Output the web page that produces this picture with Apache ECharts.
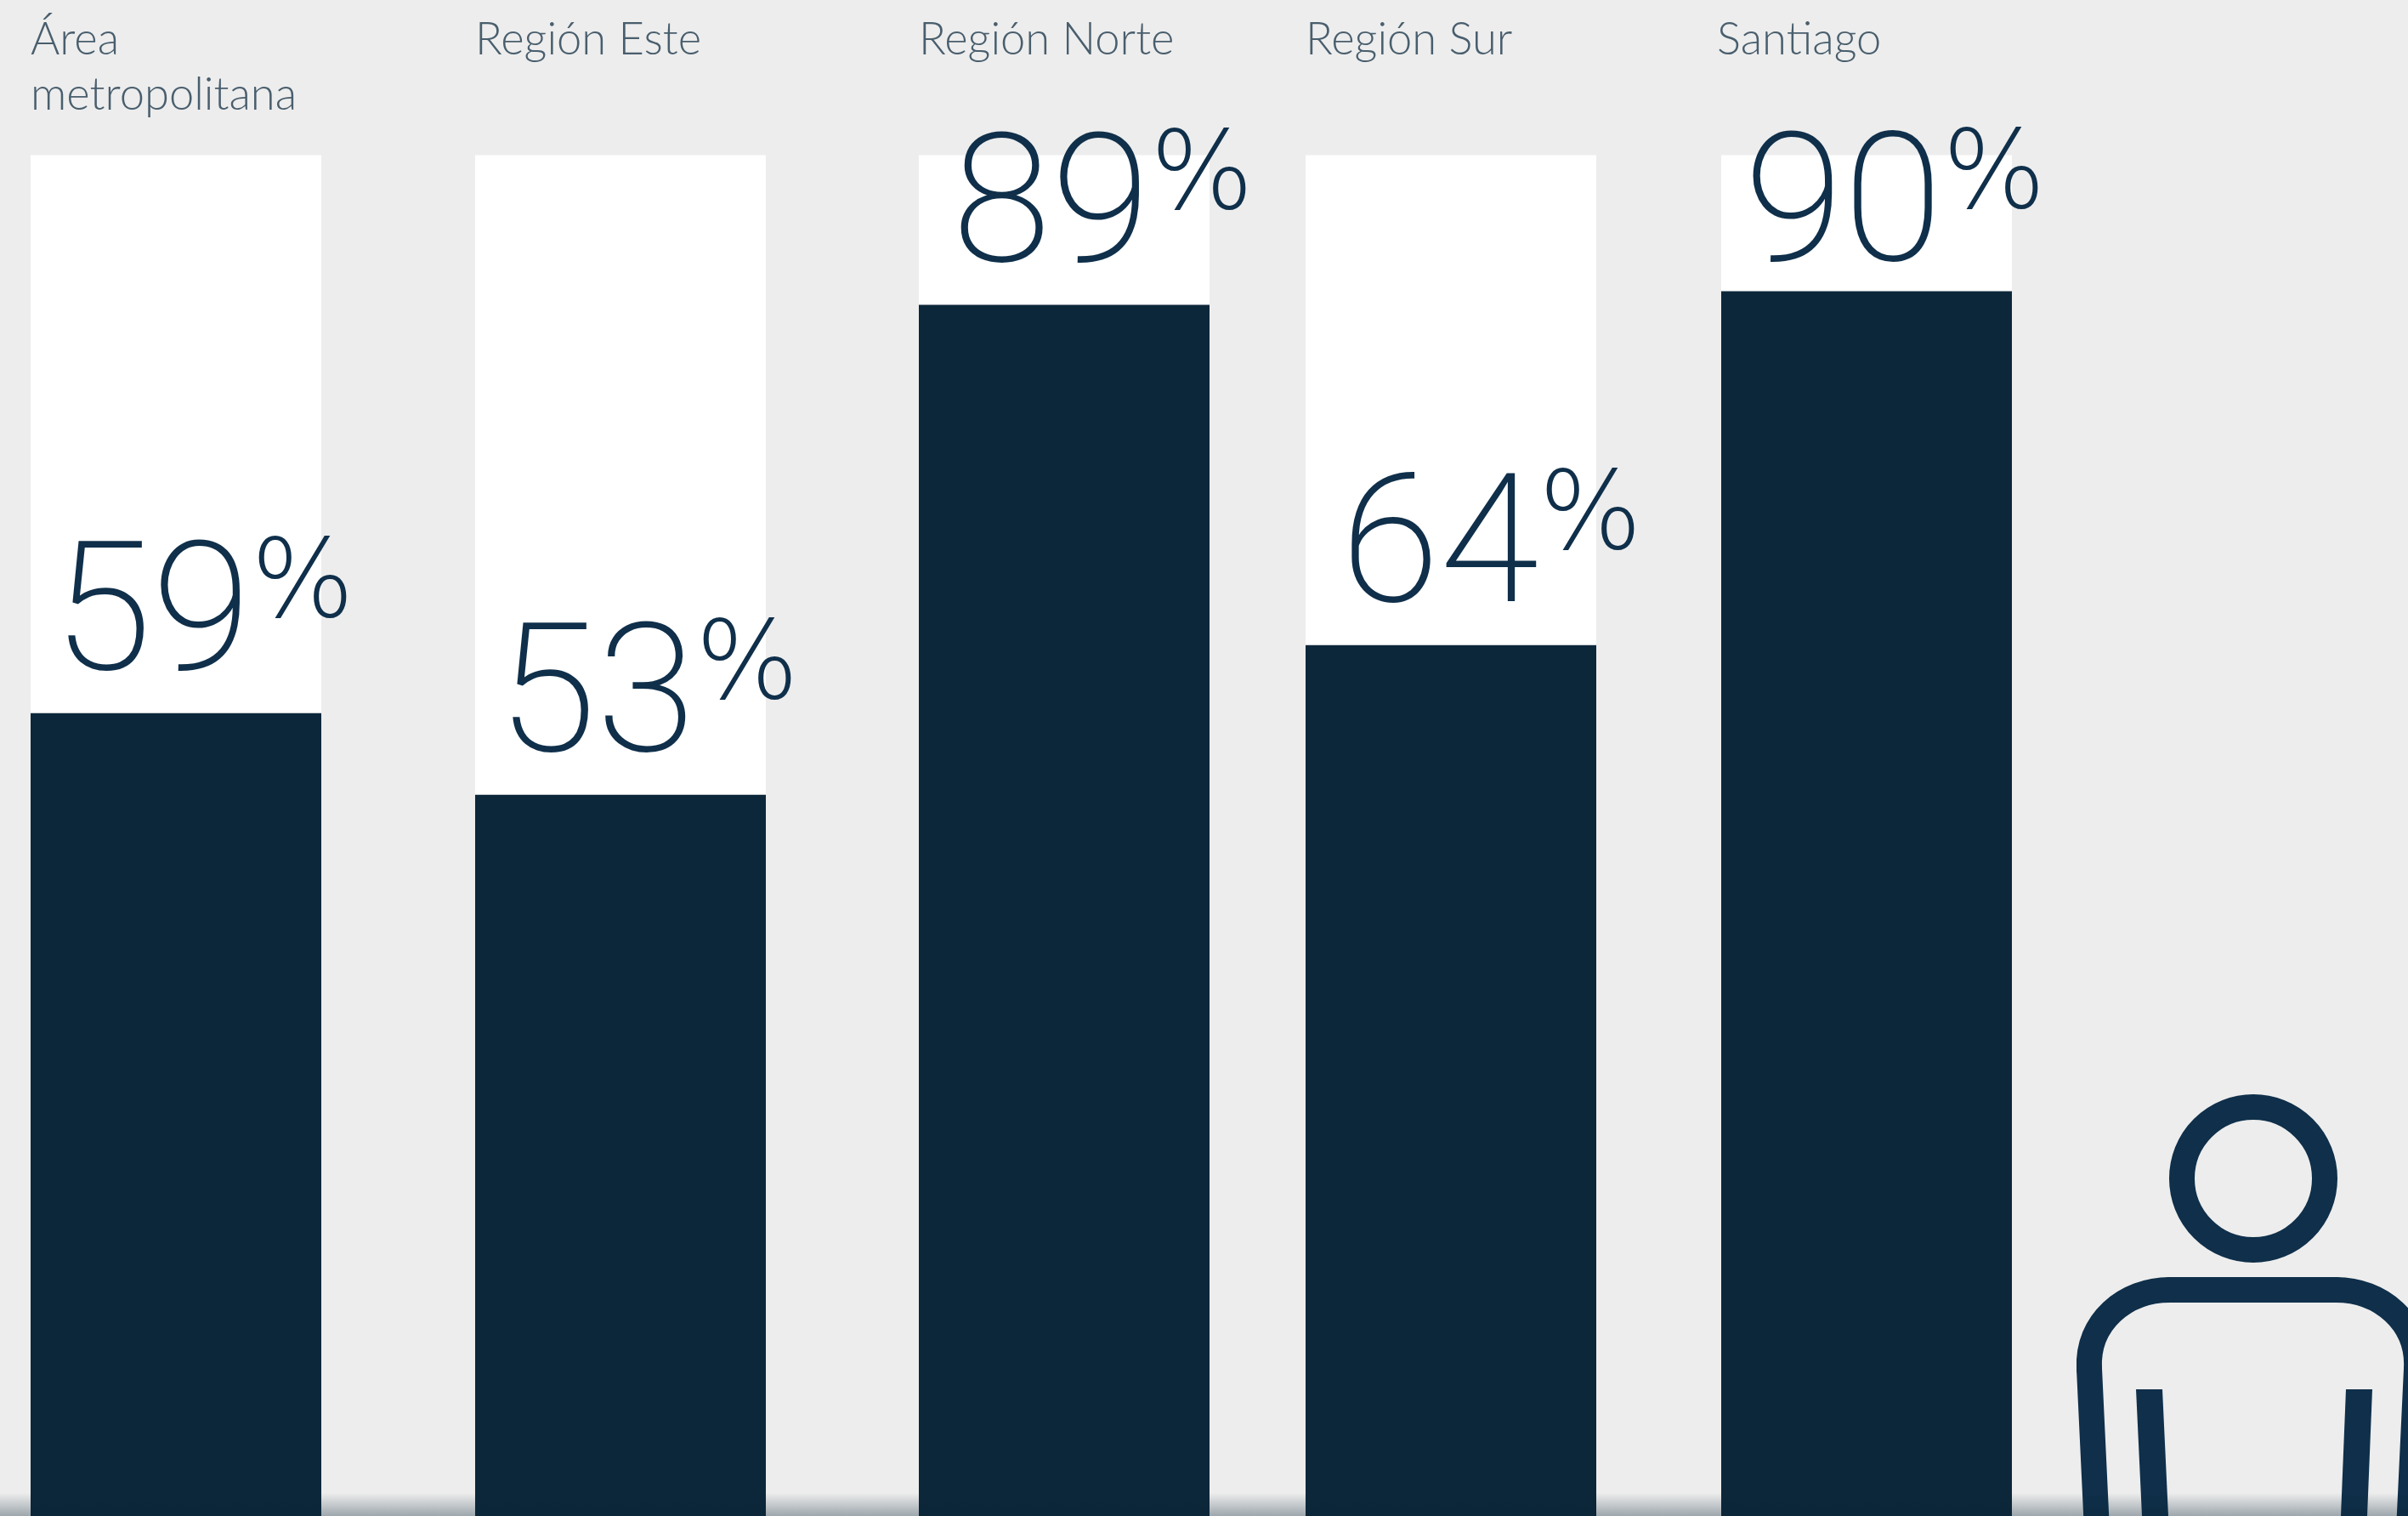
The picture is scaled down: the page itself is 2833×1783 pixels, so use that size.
<!DOCTYPE html>
<html>
<head>
<meta charset="utf-8">
<style>html,body{margin:0;height:100%;background:#ededed}#chart{width:2833px;height:1783px}</style>
<script src="https://cdn.jsdelivr.net/npm/echarts@6/dist/echarts.min.js"></script>
</head>
<body>
<div id="chart"></div>
<script>
// Regional shares, one panel per region
const regions = ['Área\nmetropolitana', 'Región Este', 'Región Norte', 'Región Sur', 'Santiago'];
const shares = [59, 53, 89, 64, 90];
const fullScale = 100;

// Panel layout and per-panel text nudges
const panelLefts = [36, 559, 1081, 1536, 2025];
const panelWidth = 342;
const panelTop = 182.5;
const panelHeight = 1600.5;
const nameShiftX = [0, 0, 0, 0, -5];
const valueShiftX = [26, 26, 39, 41, 27];
const valueShiftY = [0, 0, 0, 0, 15];

const ink = '#0f2f4a';
const barColor = '#0d273a';
const nameColor = '#495e6d';
const nameFont = 'Lato';
const digitFont = 'Roboto';
const percentFont = 'DejaVu Sans';

const grid = [], xAxis = [], yAxis = [], series = [];
regions.forEach((name, i) => {
  grid.push({ left: panelLefts[i], width: panelWidth, top: panelTop, height: panelHeight });
  xAxis.push({ type: 'category', gridIndex: i, data: [name], show: false });
  yAxis.push({ type: 'value', gridIndex: i, min: 0, max: fullScale, show: false });
  // White track carrying the region name above it
  series.push({
    type: 'bar', xAxisIndex: i, yAxisIndex: i, barWidth: '100%', barGap: '-100%',
    silent: true, animation: false,
    data: [fullScale],
    itemStyle: { color: '#ffffff' },
    label: {
      show: true, position: [nameShiftX[i], -168], align: 'left', verticalAlign: 'top',
      formatter: '{b}', fontFamily: nameFont, fontWeight: 300, fontSize: 52.5,
      lineHeight: 65, color: nameColor
    }
  });
  // Filled share with its percentage above
  series.push({
    type: 'bar', xAxisIndex: i, yAxisIndex: i, barWidth: '100%', barGap: '-100%',
    silent: true, animation: false,
    data: [shares[i]],
    itemStyle: { color: barColor },
    label: {
      show: true, position: [valueShiftX[i], 1 + valueShiftY[i]], align: 'left', verticalAlign: 'bottom',
      formatter: p => '{d|' + p.value + '}{p|%}',
      rich: {
        d: { fontFamily: digitFont, fontWeight: 200, fontSize: 212, lineHeight: 212, color: ink },
        p: { fontFamily: percentFont, fontWeight: 200, fontSize: 128, lineHeight: 128, color: ink, verticalAlign: 'top' }
      }
    }
  });
});

// Person pictogram at the lower right
const personLine = { fill: 'none', stroke: ink, lineWidth: 30, lineCap: 'round' };
const person = [
  { type: 'circle', shape: { cx: 2651, cy: 1386, r: 84 }, style: personLine },
  { type: 'line', shape: { x1: 2467, y1: 1800, x2: 2458, y2: 1610 }, style: personLine },
  { type: 'bezierCurve', shape: { x1: 2458, y1: 1610, cpx1: 2455, cpy1: 1555, cpx2: 2500, cpy2: 1517, x2: 2553, y2: 1517 }, style: personLine },
  { type: 'line', shape: { x1: 2553, y1: 1517, x2: 2748, y2: 1517 }, style: personLine },
  { type: 'bezierCurve', shape: { x1: 2748, y1: 1517, cpx1: 2801, cpy1: 1517, cpx2: 2846, cpy2: 1555, x2: 2843, y2: 1610 }, style: personLine },
  { type: 'line', shape: { x1: 2843, y1: 1610, x2: 2834, y2: 1800 }, style: personLine },
  { type: 'polygon', shape: { points: [[2513, 1634], [2544, 1634], [2551, 1783], [2520, 1783]] }, style: { fill: ink } },
  { type: 'polygon', shape: { points: [[2760, 1634], [2791, 1634], [2785, 1783], [2754, 1783]] }, style: { fill: ink } }
].map(el => Object.assign(el, { z: 20 }));

// Soft shade along the bottom edge
const shade = {
  type: 'rect', z: 30, silent: true,
  shape: { x: 0, y: 1756, width: 2833, height: 27 },
  style: {
    fill: new echarts.graphic.LinearGradient(0, 0, 0, 1, [
      { offset: 0, color: 'rgba(8,36,52,0)' },
      { offset: 1, color: 'rgba(8,36,52,0.35)' }
    ])
  }
};

const chart = echarts.init(document.getElementById('chart'));
chart.setOption({
  animation: false,
  backgroundColor: '#ededed',
  grid, xAxis, yAxis, series,
  graphic: { elements: person.concat([shade]) }
});
</script>
</body>
</html>
